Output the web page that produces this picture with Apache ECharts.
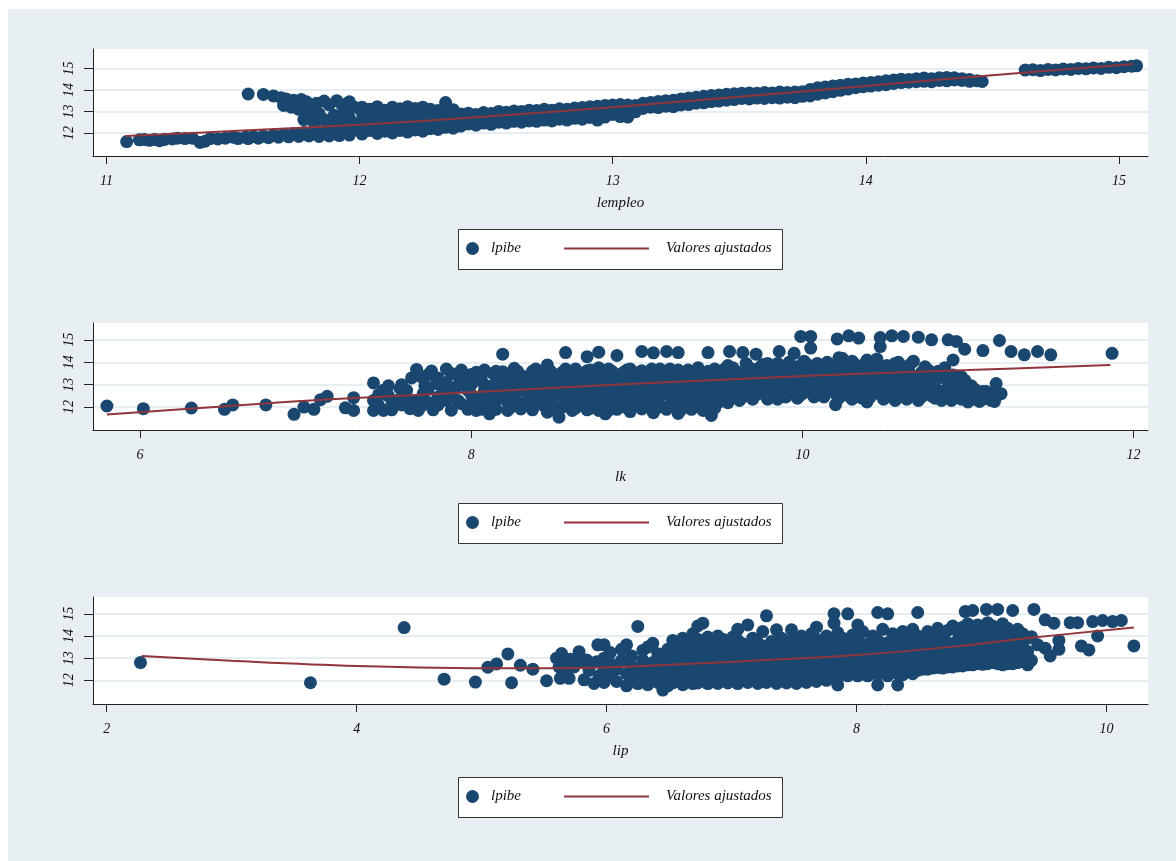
<!DOCTYPE html>
<html>
<head>
<meta charset="utf-8">
<script src="https://cdn.jsdelivr.net/npm/echarts@6/dist/echarts.min.js"></script>
<style>
  html, body { margin: 0; padding: 0; background: #fff; }
  #bg { position: absolute; left: 8px; top: 9px; width: 1168px; height: 852px; background: #e8eff2; }
  #chart { position: absolute; left: 0; top: 0; width: 1176px; height: 861px; }
</style>
</head>
<body>
<div id="bg"></div>
<div id="chart"></div>
<script>
// lpibe against lempleo: [x, [y values at that x]]
const empleoCols = [
  [11.08,[11.6]],[11.13,[11.68]],[11.15,[11.7]],[11.17,[11.66]],[11.19,[11.7]],[11.21,[11.64]],
  [11.23,[11.7]],[11.26,[11.72]],[11.28,[11.76]],[11.31,[11.74]],[11.34,[11.76]],[11.37,[11.56]],
  [11.39,[11.62]],[11.41,[11.74]],[11.44,[11.72]],[11.47,[11.76]],[11.5,[11.8]],[11.52,[11.74]],
  [11.55,[11.8]],[11.56,[11.74,13.81]],[11.58,[11.84]],[11.6,[11.76]],[11.62,[11.86,13.79]],
  [11.64,[11.78]],[11.66,[11.9,13.72]],[11.68,[11.8]],[11.69,[13.64]],[11.7,[11.94,13.28]],
  [11.71,[13.58]],[11.72,[11.82]],[11.73,[13.2]],[11.74,[11.98,13.52]],[11.76,[11.84,13.1]],
  [11.77,[13.55]],[11.78,[12.02,12.62]],[11.79,[13.02,13.45]],[11.8,[11.86,12.78]],[11.81,[13.22]],
  [11.82,[12.06,12.48]],[11.83,[13.38]],[11.84,[11.84,12.9]],[11.86,[12.1,12.62,13.48]],
  [11.88,[11.86,12.36,13.3]],[11.9,[12.14,12.82]],[11.91,[13.5]],[11.92,[11.88,12.56]],
  [11.93,[13.32]],[11.94,[12.16,12.98]],[11.96,[11.9,12.7,13.45]],[11.98,[12.2,12.42,13.2]],
  [12.01,[11.95,12.3,12.62,12.95,13.2]],[12.04,[12.12,12.46,12.8,13.1]],
  [12.07,[11.98,12.28,12.6,12.92,13.22]],[12.1,[12.08,12.4,12.74,13.05]],
  [12.13,[12.0,12.32,12.66,12.98,13.2]],[12.16,[12.12,12.46,12.82,13.12]],
  [12.19,[12.04,12.36,12.7,13.0,13.22]],[12.22,[12.14,12.5,12.86,13.14]],
  [12.25,[12.08,12.42,12.76,13.06,13.2]],[12.28,[12.2,12.54,12.88,13.1]],
  [12.31,[12.16,12.46,12.8,13.04]],[12.34,[12.26,12.6,12.92,13.41]],[12.37,[12.22,12.52,12.84,13.08]],
  [12.4,[12.32,12.6,12.88]],[12.43,[12.42,12.72,12.92]],[12.46,[12.36,12.65,12.86]],
  [12.49,[12.46,12.75,12.95]],[12.52,[12.4,12.68,12.9]],[12.55,[12.5,12.78,13.0]],
  [12.58,[12.46,12.72,12.96]],[12.61,[12.54,12.82,13.02]],[12.64,[12.5,12.76,13.0]],
  [12.67,[12.56,12.84,13.06]],[12.7,[12.54,12.8,13.04]],[12.73,[12.6,12.88,13.1]],
  [12.76,[12.56,12.84,13.06]],[12.79,[12.64,12.92,13.12]],[12.82,[12.6,12.88,13.1]],
  [12.85,[12.68,12.95,13.16]],[12.88,[12.64,12.92,13.18]],[12.91,[12.72,13.0,13.22]],
  [12.94,[12.6,12.9,13.24]],[12.97,[12.74,13.02,13.28]],[13.0,[12.86,13.12,13.3]],
  [13.03,[12.76,13.06,13.32]],[13.06,[12.74,13.08,13.3]],[13.09,[12.98,13.28]],
  [13.12,[13.14,13.38]],[13.15,[13.2,13.42]],[13.18,[13.18,13.46]],[13.21,[13.24,13.5]],
  [13.24,[13.22,13.52]],[13.27,[13.3,13.58]],[13.3,[13.32,13.62]],[13.33,[13.38,13.66]],
  [13.36,[13.4,13.7]],[13.39,[13.46,13.74]],[13.42,[13.48,13.76]],[13.45,[13.52,13.8]],
  [13.48,[13.55,13.82]],[13.51,[13.6,13.84]],[13.54,[13.58,13.86]],[13.57,[13.62,13.84]],
  [13.6,[13.6,13.88]],[13.63,[13.64,13.86]],[13.66,[13.62,13.9]],[13.69,[13.66,13.88]],
  [13.72,[13.64,13.9]],[13.75,[13.7,13.92]],[13.78,[13.72,14.02]],[13.81,[13.8,14.1]],
  [13.84,[13.86,14.14]],[13.87,[13.92,14.18]],[13.9,[13.98,14.22]],[13.93,[14.04,14.26]],
  [13.96,[14.1,14.28]],[13.99,[14.15,14.32]],[14.02,[14.18,14.34]],[14.05,[14.22,14.38]],
  [14.08,[14.24,14.42]],[14.11,[14.3,14.46]],[14.14,[14.34,14.5]],[14.17,[14.36,14.48]],
  [14.2,[14.38,14.52]],[14.23,[14.4,14.55]],[14.26,[14.38,14.52]],[14.29,[14.44,14.56]],
  [14.32,[14.42,14.58]],[14.35,[14.46,14.56]],[14.38,[14.44,14.52]],[14.41,[14.4,14.48]],
  [14.44,[14.42]],[14.46,[14.39]],
  [14.63,[14.92]],[14.66,[14.94]],[14.69,[14.9]],[14.72,[14.95]],[14.75,[14.93]],[14.78,[14.97]],
  [14.81,[14.95]],[14.84,[15.0]],[14.87,[14.98]],[14.9,[15.02]],[14.93,[15.0]],[14.96,[15.05]],
  [14.99,[15.03]],[15.02,[15.08]],[15.05,[15.1]],[15.07,[15.12]]
];

// lpibe against lk
const kCols = [
  [5.8,[12.05]],[6.02,[11.93]],[6.31,[11.96]],[6.51,[11.9]],[6.56,[12.1]],[6.76,[12.1]],
  [6.93,[11.68]],[6.99,[12.0]],[7.05,[11.9]],[7.09,[12.33]],[7.13,[12.48]],[7.24,[11.97]],
  [7.29,[12.42,11.85]],[7.41,[13.08,12.3,11.85]],[7.44,[12.1,12.55]],[7.47,[12.75,11.85]],
  [7.5,[12.5,12.95]],[7.52,[11.88,12.1]],[7.55,[12.3]],[7.57,[12.83]],[7.58,[12.1,13.0]],
  [7.6,[12.45]],[7.61,[12.75]],[7.63,[11.93]],[7.64,[12.25,13.3]],[7.67,[13.68]],
  [7.68,[11.85]],[7.7,[12.05,12.4,13.35]],[7.71,[12.6]],[7.72,[12.95]],[7.74,[12.8,13.45]],
  [7.75,[12.2]],[7.76,[13.61]],[7.77,[11.88]],[7.79,[13.05]],[7.8,[12.1,12.45,13.3]],
  [7.83,[12.75]],[7.85,[12.3,13.1,13.7]],
  [7.88,[11.86,12.5,12.82,13.5]],[7.92,[12.3,12.95,13.4]],[7.94,[12.15,13.12,13.65]],
  [7.98,[11.9,12.75,13.3]],[8.0,[12.1,12.55,13.0,13.45]],[8.03,[11.85,12.4,13.2,13.55]],
  [8.06,[11.9,12.3,13.3]],[8.08,[12.1,12.75,13.0,13.65]],[8.11,[11.7,12.5]],
  [8.13,[12.15,12.65,12.95,13.5]],[8.15,[11.9,12.3,13.35,13.6]],[8.17,[12.45,12.85,13.2]],
  [8.19,[12.65,13.05,13.58,14.36]],[8.22,[11.85,12.2,12.9]],[8.24,[12.0,12.6,13.05,13.45]],
  [8.26,[12.45,13.2,13.73]],[8.28,[12.25,12.75,13.6]],[8.3,[11.92,12.9,13.4]],
  [8.33,[12.2,12.7,13.35]],[8.35,[12.05,12.5,12.95,13.25]],[8.37,[11.88,12.45,13.05,13.6]],
  [8.39,[12.6,13.3,13.7]],[8.41,[12.25,12.8,13.5]],[8.44,[12.05,12.4,12.95,13.35]],
  [8.46,[11.77,12.6,13.15,13.88]],[8.48,[12.2,12.75,13.2,13.6]],[8.5,[12.0,12.45,12.95,13.45]],
  [8.53,[11.55,12.75,13.3]],[8.55,[12.0,12.5,13.1,13.55]],[8.57,[12.1,13.0,13.35,13.7,14.43]],
  [8.59,[12.3,12.65,13.2]],[8.61,[11.85,12.5,12.85,13.55]],[8.63,[11.95,12.95,13.4,13.7]],
  [8.65,[12.25,12.7,13.2]],[8.68,[12.1,12.4,12.8,13.15]],[8.7,[11.88,13.0,13.35,13.62,14.25]],
  [8.72,[11.95,12.7,13.25,13.65]],[8.74,[12.2,12.55,12.9,13.5]],[8.77,[11.85,13.2,13.75,14.45]],
  [8.79,[12.1,12.55,13.0,13.55]],[8.81,[11.7,12.4,12.75,13.4]],[8.83,[11.85,12.25,12.9,13.25,13.7]],
  [8.85,[12.05,13.05,13.6]],[8.88,[11.9,12.6,13.3,14.3]],[8.9,[12.1,12.45,13.05,13.45]],
  [8.92,[12.25,12.85,13.55]],[8.94,[11.95,12.65,13.3,13.65]],[8.96,[11.8,12.5,13.15,13.7]],
  [8.98,[12.3,12.95,13.55]],[9.0,[12.1,12.8,13.4]],[9.03,[11.92,12.45,13.0,13.62,14.48]],
  [9.05,[12.0,12.6,13.15,13.5]],[9.07,[12.2,12.7,13.3]],[9.09,[12.4,12.85,13.7]],
  [9.1,[11.75,12.95,13.55,14.42]],[9.12,[11.95,12.3,13.0,13.4]],[9.14,[12.1,12.5,13.2,13.7]],
  [9.16,[12.65,12.95,13.55]],[9.18,[11.9,12.8,13.4,14.48]],[9.2,[12.05,12.5,13.2,13.7]],
  [9.22,[12.3,12.65,13.05]],[9.24,[12.35,12.85,13.45]],[9.25,[11.72,12.1,13.3,13.65,14.43]],
  [9.27,[11.9,12.6,13.1]],[9.29,[12.45,12.9,13.5]],[9.31,[12.05,12.7,13.3,13.65]],
  [9.33,[11.9,12.25,13.15]],[9.35,[12.4,12.85,13.55]],[9.37,[12.6,13.0,13.45,13.75]],
  [9.38,[12.15,13.2]],[9.4,[11.85,12.35,13.25]],[9.42,[12.1,12.5,12.95,13.4]],
  [9.43,[12.7,13.6,14.43]],[9.45,[11.63,12.5,13.05]],[9.47,[11.95,12.65,13.25,13.7]],
  [9.49,[12.2,12.85,13.4]],[9.51,[12.35,13.0,13.5]],[9.53,[12.55,13.2,13.7]],
  [9.55,[12.2,12.75,13.35,13.85]],[9.56,[12.4,12.95,14.48]],[9.58,[12.55,13.15,13.75]],
  [9.6,[12.65,13.35,13.6]],[9.62,[12.3,12.9,13.45]],[9.64,[12.45,13.05,14.43]],
  [9.66,[12.6,13.15,13.55,13.95]],[9.68,[12.8,13.3,13.75]],[9.7,[12.35,13.0,13.5]],
  [9.72,[12.55,13.15,14.36]],[9.74,[12.85,13.3,13.75]],[9.76,[12.7,13.45,13.9]],
  [9.78,[12.5,13.2,13.6]],[9.79,[12.35,13.0,13.95]],[9.81,[12.8,13.45,13.85]],
  [9.83,[12.6,13.25,13.7]],[9.85,[12.35,13.05,13.95]],[9.86,[12.9,13.5,14.48]],
  [9.88,[12.65,13.3,13.75]],[9.9,[12.45,13.1,13.8]],[9.92,[12.9,13.55,14.0]],
  [9.95,[12.7,13.35,14.4]],[9.97,[12.4,13.2,13.8]],[9.99,[12.55,13.0,13.6,15.15]],
  [10.01,[12.65,13.45,14.05]],[10.03,[12.8,13.3,13.9]],[10.05,[12.95,13.65,14.63,15.15]],
  [10.07,[12.45,13.1,13.5]],[10.09,[12.6,13.35,13.95]],[10.11,[12.7,13.25,13.8]],
  [10.13,[12.45,13.05,13.65]],[10.15,[12.95,13.5,14.0]],[10.17,[12.75,13.3,13.85]],
  [10.2,[12.11,12.6,13.2,13.7]],[10.21,[15.04]],[10.22,[12.4,12.95,13.55,14.2]],
  [10.24,[12.85,13.4,14.18]],[10.26,[12.65,13.25,13.9]],[10.28,[12.5,13.1,13.65,15.18]],
  [10.3,[12.35,12.95,13.5,14.05]],[10.32,[12.75,13.3,13.9]],[10.34,[12.6,13.15,13.75,15.08]],
  [10.36,[12.4,13.0,13.55]],[10.38,[12.5,13.35,13.95]],[10.39,[12.23,12.85,14.1]],
  [10.41,[12.45,13.05,13.55]],[10.43,[12.6,13.2,13.7]],[10.45,[12.7,13.25,13.85,14.15]],
  [10.47,[12.95,13.45,14.7,15.1]],[10.49,[12.35,13.3,13.6]],[10.51,[12.5,13.1,13.85]],
  [10.53,[12.6,13.05,13.75]],[10.54,[12.8,13.35,15.18]],[10.56,[12.3,13.15,13.95]],
  [10.58,[12.45,13.0,13.6,14.0]],[10.6,[12.55,13.4,13.8]],[10.61,[12.7,13.25,15.15]],
  [10.63,[12.35,13.05,13.65]],[10.65,[12.9,13.5,13.9]],[10.67,[12.65,13.3,14.05]],
  [10.7,[12.3,12.6,13.15,15.12]],[10.72,[12.45,12.95,13.55]],[10.74,[12.85,13.4,13.8]],
  [10.76,[12.6,13.2,13.65]],[10.78,[12.5,13.05,15.0]],[10.8,[12.4,12.9,13.45]],
  [10.82,[12.7,13.3,13.6]],[10.84,[12.3]],[10.86,[12.75,13.3,13.75]],[10.88,[12.55,13.15,15.0]],
  [10.9,[12.3,12.95,13.2]],[10.91,[13.43,14.1]],[10.93,[12.45,12.9,14.93]],
  [10.96,[12.35,12.75,13.35]],[10.98,[12.6,13.2,14.58]],[11.0,[12.23,12.68]],
  [11.02,[12.45,12.95]],[11.04,[12.35,12.8]],[11.07,[12.25,12.55]],[11.09,[12.35,12.7,14.52]],
  [11.11,[12.4,12.7]],[11.14,[12.3,12.6]],[11.16,[12.25,12.55]],[11.17,[13.05,12.45]],
  [11.19,[14.97]],[11.2,[12.6]],[11.26,[14.48]],[11.34,[14.33]],
  [11.42,[14.48]],[11.5,[14.33]],[11.87,[14.4]]
];

// lpibe against lip
const ipCols = [
  [2.27,[12.8]],[3.63,[11.89]],[4.38,[14.38]],[4.7,[12.05]],[4.95,[11.92]],[5.05,[12.59]],
  [5.12,[12.74]],[5.21,[13.19]],[5.24,[11.89]],[5.31,[12.68]],[5.41,[12.5]],[5.52,[11.98]],
  [5.6,[13.0]],[5.62,[12.6]],[5.63,[12.09]],[5.64,[13.21]],[5.66,[12.84]],[5.68,[12.3]],
  [5.7,[12.09]],[5.71,[12.95]],[5.74,[12.6]],[5.78,[13.29]],[5.79,[12.84]],[5.82,[12.02]],
  [5.84,[12.92]],[5.86,[12.45]],[5.9,[11.86]],[5.93,[13.6]],[5.92,[12.84]],[5.94,[12.2]],
  [5.98,[11.9,12.45,13.0,13.6]],[6.03,[12.2,12.75,13.25]],[6.08,[11.95,12.5]],[6.12,[12.9,13.4]],
  [6.16,[11.75,12.3,13.6]],[6.2,[12.1,12.65,13.1]],[6.25,[11.85,12.45,14.43]],
  [6.29,[12.2,12.9,13.35]],[6.33,[11.8,12.55,13.5]],[6.37,[12.05,12.8,13.67]],
  [6.41,[11.9,12.4,13.2]],[6.45,[11.56,12.15,12.7,13.05]],[6.49,[11.75,12.5,12.95,13.4]],
  [6.53,[11.88,12.25,12.8,13.25,13.8]],[6.57,[12.05,12.6,13.1,13.55]],
  [6.61,[11.8,12.4,12.9,13.35,13.9]],[6.65,[11.95,12.2,12.75,13.2,13.7]],
  [6.69,[11.85,12.55,13.0,13.5,14.1]],[6.73,[11.88,12.3,12.85,13.3,13.85,14.45]],
  [6.77,[12.1,12.65,13.15,13.6,14.58]],[6.81,[11.85,12.45,12.95,13.45,13.95]],
  [6.85,[12.0,12.75,13.25,13.7]],[6.89,[11.86,12.35,12.6,13.05,13.55,14.0]],
  [6.93,[12.15,12.85,13.35,13.85]],[6.97,[11.88,12.5,13.15,13.6]],
  [7.01,[12.05,12.7,13.0,13.45,13.95]],[7.05,[11.85,12.4,12.9,13.3,13.8,14.3]],
  [7.09,[12.2,12.6,13.15,13.65]],[7.13,[11.9,12.45,12.95,13.5,14.5]],
  [7.17,[12.05,12.75,13.3,13.9]],[7.21,[11.86,12.35,12.85,13.2,13.7]],
  [7.25,[12.1,12.6,13.05,13.55,14.2]],[7.28,[11.9,12.8,13.35,14.91]],
  [7.32,[12.2,12.55,13.0,13.75]],[7.36,[11.86,12.4,13.2,13.6,14.28]],
  [7.4,[12.05,12.7,13.1,13.9]],[7.44,[11.88,12.5,12.95,13.45]],
  [7.48,[12.15,12.8,13.3,13.8,14.28]],[7.52,[11.86,12.6,13.1,13.6]],
  [7.56,[12.3,12.9,13.4,14.0]],[7.6,[11.9,12.1,12.7,13.2,13.7]],
  [7.64,[12.45,13.0,13.5,14.1]],[7.68,[11.95,12.8,13.3,13.85,14.4]],
  [7.72,[12.2,12.6,13.15,13.65]],[7.76,[12.0,12.9,13.45,14.0]],
  [7.8,[12.35,12.75,13.25,13.8]],[7.82,[14.58,15.0]],
  [7.85,[11.79,12.1,12.6,13.05,13.55,14.15]],[7.89,[12.45,12.95,13.4,13.9]],
  [7.93,[12.2,12.7,13.2,13.7,15.0]],[7.97,[12.4,12.85,13.5,14.05]],
  [8.01,[12.2,12.6,13.1,13.8,14.5]],[8.05,[12.3,12.95,13.35,14.2]],
  [8.09,[12.2,12.75,13.2,13.65]],[8.13,[12.45,12.9,13.5,14.0]],
  [8.17,[11.79,12.25,12.65,13.15,13.8,15.06]],[8.21,[12.4,13.0,13.45,14.3]],
  [8.25,[12.2,12.8,13.25,13.7,15.0]],[8.29,[12.5,12.95,13.55,14.1]],
  [8.33,[11.79,12.3,12.7,13.2,13.9]],[8.37,[12.25,12.6,13.05,13.6,14.2]],
  [8.41,[12.4,12.85,13.4,13.85]],[8.45,[12.3,12.65,13.15,14.3]],
  [8.49,[12.45,13.0,13.6,14.0,15.06]],[8.53,[12.5,12.8,13.25,13.75]],
  [8.57,[12.5,12.95,13.5,14.2]],[8.61,[12.55,12.85,13.3,13.9]],
  [8.65,[12.58,13.05,13.6,14.35]],[8.69,[12.55,12.9,13.4,14.0]],
  [8.73,[12.6,13.15,13.7,14.25]],[8.77,[12.6,12.95,13.45,14.45]],
  [8.81,[12.65,13.1,13.8,14.2]],[8.85,[12.65,13.0,13.55,14.4]],[8.87,[15.1]],
  [8.89,[12.7,13.25,13.9,14.55]],[8.93,[12.7,13.05,13.6,14.3,15.15]],
  [8.97,[12.75,13.35,14.0,14.5]],[9.01,[12.72,13.15,13.7,14.35]],[9.04,[15.2]],
  [9.05,[12.75,13.45,14.1,14.6]],[9.09,[12.8,13.25,13.85,14.45]],
  [9.13,[12.75,13.05,13.6,14.25,15.2]],[9.17,[12.7,13.35,13.95,14.55]],
  [9.21,[12.75,13.1,13.7,14.35]],[9.25,[12.75,13.4,14.0,15.15]],
  [9.29,[12.8,13.2,13.8,14.3]],[9.33,[12.85,13.5,14.1]],[9.37,[12.7,13.3,13.9]],
  [9.4,[12.9,13.97]],[9.42,[15.2]],[9.45,[13.6]],[9.51,[13.45,14.73]],[9.55,[13.1]],
  [9.58,[14.58]],[9.62,[13.4,13.8]],[9.71,[14.6]],[9.77,[14.6]],[9.8,[13.55]],
  [9.86,[13.37]],[9.89,[14.65]],[9.93,[14.0]],[9.97,[14.7]],[10.05,[14.65]],
  [10.12,[14.7]],[10.22,[13.55]]
];

// fitted values
const empleoFit = [[11.076,11.86],[11.5,12.09],[12.0,12.38],[12.5,12.76],[13.0,13.2],[13.5,13.68],[14.0,14.18],[14.5,14.68],[15.057,15.2]];
const kFit = [[5.8,11.67],[6.5,12.03],[7.15,12.35],[8.0,12.66],[8.8,12.97],[9.68,13.28],[10.4,13.5],[11.0,13.65],[11.86,13.88]];
const ipFit = [[2.28,13.1],[3.0,12.88],[4.0,12.65],[5.18,12.54],[5.87,12.57],[6.5,12.7],[7.03,12.84],[8.0,13.14],[8.78,13.52],[9.36,13.9],[10.22,14.38]];

const empleoTicks = [11, 12, 13, 14, 15];
const kTicks = [6, 8, 10, 12];
const ipTicks = [2, 4, 6, 8, 10];
const pibeTicks = [12, 13, 14, 15];

const FONT = "'Liberation Serif', 'DejaVu Serif', serif";
const labelText = { fontFamily: FONT, fontStyle: 'italic', fontSize: 14, color: '#111' };

function toPoints(cols) {
  const pts = [];
  cols.forEach(([x, ys]) => ys.forEach(y => pts.push([x, y])));
  return pts;
}

const panels = [
  { name: 'lempleo', cols: empleoCols, fit: empleoFit, ticks: empleoTicks, x: [10.947, 15.115], y: [10.93, 15.9] },
  { name: 'lk', cols: kCols, fit: kFit, ticks: kTicks, x: [5.716, 12.087], y: [10.98, 15.75] },
  { name: 'lip', cols: ipCols, fit: ipFit, ticks: ipTicks, x: [1.89, 10.333], y: [10.93, 15.76] }
];
const STEP = 274;

const axisLine = { show: true, onZero: false, lineStyle: { color: '#222', width: 1 } };
const tickLine = { color: '#222', width: 1 };

const option = {
  animation: false,
  backgroundColor: 'transparent',
  grid: panels.map((p, k) => ({
    left: 93, right: 28, top: 49 + STEP * k, height: 107,
    show: true, backgroundColor: '#fff', borderWidth: 0
  })),
  xAxis: panels.map((p, k) => ({
    type: 'value', gridIndex: k, min: p.x[0], max: p.x[1],
    name: p.name, nameLocation: 'middle', nameGap: 40,
    nameTextStyle: { ...labelText, fontSize: 15 },
    axisLine,
    axisTick: { show: true, length: 8, customValues: p.ticks, lineStyle: tickLine },
    axisLabel: { ...labelText, margin: 18, customValues: p.ticks },
    splitLine: { show: false }
  })),
  yAxis: panels.map((p, k) => ({
    type: 'value', gridIndex: k, min: p.y[0], max: p.y[1],
    axisLine,
    axisTick: { show: true, length: 9, customValues: pibeTicks, lineStyle: tickLine },
    axisLabel: { ...labelText, rotate: 90, margin: 17, customValues: pibeTicks },
    splitLine: { show: true, customValues: pibeTicks, lineStyle: { color: '#e6eef1', width: 2 } }
  })),
  legend: panels.flatMap((p, k) => [
    {
      data: ['lpibe'], left: 466, top: 241 + STEP * k, padding: 0, z: 10,
      itemWidth: 13, itemHeight: 13, icon: 'circle', selectedMode: false,
      textStyle: { ...labelText, fontSize: 15, padding: [0, 0, 0, 7] }
    },
    {
      data: [{ name: 'Valores ajustados', icon: 'rect' }], left: 564, top: 241 + STEP * k,
      padding: 0, z: 10, itemWidth: 85, itemHeight: 2, selectedMode: false,
      textStyle: { ...labelText, fontSize: 15, padding: [0, 0, 0, 12] }
    }
  ]),
  graphic: panels.map((p, k) => ({
    type: 'rect', left: 458, top: 229 + STEP * k, z: 1,
    shape: { width: 324, height: 40 },
    style: { fill: '#fff', stroke: '#333', lineWidth: 1 }
  })),
  series: panels.flatMap((p, k) => [
    {
      type: 'scatter', name: 'lpibe', xAxisIndex: k, yAxisIndex: k,
      data: toPoints(p.cols), symbolSize: 13, silent: true,
      itemStyle: { color: '#1a476f', opacity: 1 }
    },
    {
      type: 'line', name: 'Valores ajustados', xAxisIndex: k, yAxisIndex: k,
      data: p.fit, showSymbol: false, symbol: 'none', smooth: 0.4, silent: true, z: 3,
      color: '#90353b', lineStyle: { color: '#90353b', width: 2 }
    }
  ])
};

const chart = echarts.init(document.getElementById('chart'));
chart.setOption(option);
window.addEventListener('resize', () => chart.resize());
</script>
</body>
</html>
